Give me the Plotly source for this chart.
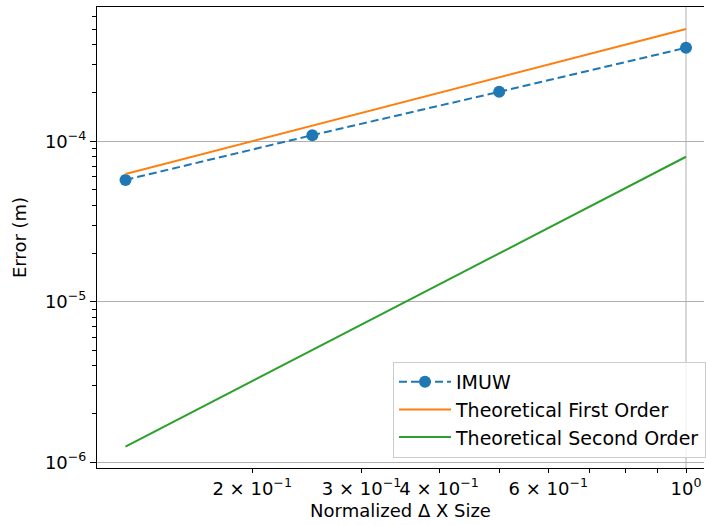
import plotly.graph_objects as go

dx = [0.125, 0.25, 0.5, 1.0]
imuw = [5.74e-5, 1.09e-4, 2.03e-4, 3.82e-4]
first_order = [6.25e-5, 1.25e-4, 2.5e-4, 5.0e-4]
second_order = [1.25e-6, 5.0e-6, 2.0e-5, 8.0e-5]

x_tickvals = [0.2, 0.3, 0.4, 0.6, 1.0]
x_ticktext = ["2 × 10<sup>−1</sup>", "3 × 10<sup>−1</sup>", "4 × 10<sup>−1</sup>",
              "6 × 10<sup>−1</sup>", "10<sup>0</sup>"]
x_minor = [0.5, 0.7, 0.8, 0.9]
y_tickvals = [1e-6, 1e-5, 1e-4]
y_ticktext = ["10<sup>−6</sup>", "10<sup>−5</sup>", "10<sup>−4</sup>"]
y_minor = [k * 10 ** e for e in (-6, -5, -4) for k in range(2, 10)]

FONT = "DejaVu Sans"
FS = 18

fig = go.Figure()
fig.add_trace(go.Scatter(x=dx, y=imuw, mode="lines+markers", name="IMUW",
                         line=dict(color="#1f77b4", width=2, dash="8px,4px"),
                         marker=dict(size=12, color="#1f77b4")))
fig.add_trace(go.Scatter(x=dx, y=first_order, mode="lines", name="Theoretical First Order",
                         line=dict(color="#ff7f0e", width=2)))
fig.add_trace(go.Scatter(x=dx, y=second_order, mode="lines", name="Theoretical Second Order",
                         line=dict(color="#2ca02c", width=2)))

fig.add_shape(type="line", xref="x", yref="paper", x0=1.0, x1=1.0, y0=0, y1=1,
              line=dict(color="#b0b0b0", width=1), layer="below")

fig.update_layout(
    width=706, height=525,
    margin=dict(l=97, r=0, t=7, b=57),
    paper_bgcolor="white", plot_bgcolor="white",
    font=dict(family=FONT, size=FS, color="black"),
    showlegend=True,
    legend=dict(x=0.488, y=0.022, xanchor="left", yanchor="bottom",
                bgcolor="rgba(255,255,255,0.8)", bordercolor="#cccccc", borderwidth=1,
                font=dict(family=FONT, size=19), tracegroupgap=0, itemwidth=52),
    xaxis=dict(type="log", range=[-0.949, 0.029], automargin=False,
               tickvals=x_tickvals, ticktext=x_ticktext, tickangle=0,
               ticks="outside", ticklen=4, tickcolor="black",
               tickfont=dict(size=FS),
               showgrid=False, zeroline=False,
               showline=True, linecolor="black", linewidth=1, mirror=True,
               minor=dict(tickvals=x_minor, ticks="outside", ticklen=4,
                          tickcolor="black", showgrid=False),
               title=dict(text="Normalized Δ X Size", font=dict(size=FS), standoff=6)),
    yaxis=dict(type="log", range=[-6.036, -3.164], automargin=False,
               tickvals=y_tickvals, ticktext=y_ticktext,
               ticks="outside", ticklen=6, tickcolor="black",
               tickfont=dict(size=FS),
               showgrid=True, gridcolor="#b0b0b0", gridwidth=1, zeroline=False,
               showline=True, linecolor="black", linewidth=1, mirror=False,
               minor=dict(tickvals=y_minor, ticks="outside", ticklen=4,
                          tickcolor="black", showgrid=False),
               title=dict(text="Error (m)", font=dict(size=FS), standoff=13)),
)

fig.write_html("out.html")
